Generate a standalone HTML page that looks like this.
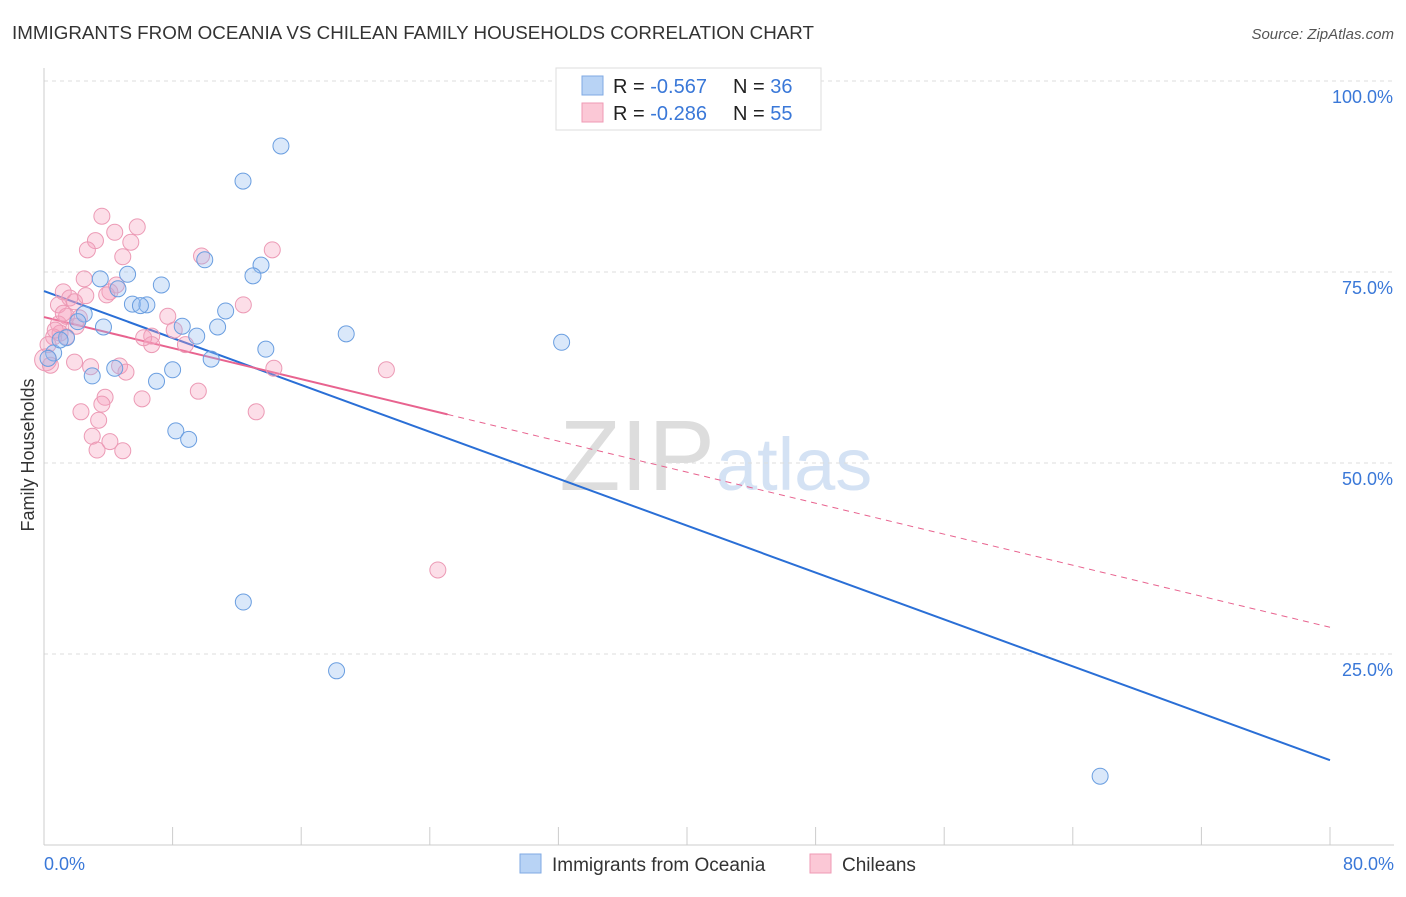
<!DOCTYPE html>
<html><head><meta charset="utf-8"><style>
body{margin:0;background:#fff;font-family:"Liberation Sans",sans-serif;}
svg text{font-family:"Liberation Sans",sans-serif;}
</style></head><body>
<svg id="c" width="1406" height="892" xmlns="http://www.w3.org/2000/svg">
<text x="12" y="39" font-size="18" fill="#333" textLength="802" lengthAdjust="spacingAndGlyphs">IMMIGRANTS FROM OCEANIA VS CHILEAN FAMILY HOUSEHOLDS CORRELATION CHART</text>
<text x="1394" y="39" font-size="15" fill="#555" font-style="italic" text-anchor="end">Source: ZipAtlas.com</text>
<text x="715" y="490" font-size="100" fill="#ddd" font-family="Liberation Serif" text-anchor="end">ZIP</text>
<text x="716" y="490" font-size="74" fill="#d4e2f4">atlas</text>
<g id="grid"></g>
<g id="axes"></g>
<g id="lines"></g>
<g id="pts"></g>
<text transform="translate(34,455) rotate(-90)" font-size="18" fill="#333" text-anchor="middle">Family Households</text>
<g>
<rect x="556" y="68" width="265" height="62" fill="#fff" stroke="#ddd"/>
<rect x="582" y="76" width="21" height="19" fill="#b8d3f5" stroke="#7fa9e3"/>
<rect x="582" y="103" width="21" height="19" fill="#fbc8d6" stroke="#ef9ab4"/>
<text x="613" y="93" font-size="20" fill="#222">R = <tspan fill="#3a78d8">-0.567</tspan></text>
<text x="733" y="93" font-size="20" fill="#222">N = <tspan fill="#3a78d8">36</tspan></text>
<text x="613" y="120" font-size="20" fill="#222">R = <tspan fill="#3a78d8">-0.286</tspan></text>
<text x="733" y="120" font-size="20" fill="#222">N = <tspan fill="#3a78d8">55</tspan></text>
</g>
<g>
<rect x="520" y="854" width="21" height="19" fill="#b8d3f5" stroke="#7fa9e3"/>
<text x="552" y="871" font-size="19" fill="#333">Immigrants from Oceania</text>
<rect x="810" y="854" width="21" height="19" fill="#fbc8d6" stroke="#ef9ab4"/>
<text x="842" y="871" font-size="19" fill="#333">Chileans</text>
</g>
</svg>
<script>
const blueX=[14.74,12.38,13.5,13.0,10.0,5.2,3.5,4.6,7.3,5.5,6.4,6.0,11.3,2.5,3.7,8.6,10.8,9.5,18.8,32.2,1.4,0.6,13.8,10.4,8.0,3.0,4.4,7.0,8.2,9.0,12.4,18.2,65.7,0.25,1.0,2.1];
const blueY=[91.5,86.9,75.9,74.5,76.6,74.7,74.1,72.8,73.3,70.8,70.7,70.6,69.9,69.5,67.8,67.9,67.8,66.6,66.9,65.8,66.4,64.4,64.9,63.6,62.2,61.4,62.4,60.7,54.2,53.1,31.8,22.8,9.0,63.7,66.1,68.5];
const pinkX=[3.6,5.8,4.4,3.2,5.4,2.7,14.2,9.8,4.9,2.5,4.5,1.2,1.6,4.1,1.9,2.6,0.9,12.4,1.4,2.2,7.7,0.9,1.0,8.1,6.7,1.4,0.6,8.8,6.7,0.25,1.9,2.9,4.7,5.1,14.3,21.3,9.6,6.1,3.8,3.6,2.3,13.2,3.4,3.0,4.1,3.3,4.9,24.5,0.1,0.4,0.7,1.2,3.9,2.0,6.2];
const pinkY=[82.3,80.9,80.2,79.1,78.9,77.9,77.9,77.1,77.0,74.1,73.3,72.4,71.6,72.4,71.1,71.9,70.7,70.7,69.2,69.0,69.2,68.2,67.0,67.4,66.6,66.5,66.5,65.5,65.5,65.5,63.2,62.6,62.7,61.9,62.4,62.2,59.4,58.4,58.6,57.7,56.7,56.7,55.6,53.5,52.8,51.7,51.6,36.0,63.5,62.8,67.4,69.6,72.0,67.9,66.4];
const blueFit=[72.5,11.1];
const pinkFit=[69.1,28.5];
const pinkSolidEnd=25.1;
const yTicks=[25,50,75,100];
const xTickVals=[0,8,16,24,32,40,48,56,64,72,80];

const X0=44,X1=1330,Y0=845,Y100=81;
const sx=v=>X0+(X1-X0)*v/80;
const sy=v=>Y0-(Y0-Y100)*v/100;
const NS='http://www.w3.org/2000/svg';
function mk(parent,tag,attrs){const e=document.createElementNS(NS,tag);for(const k in attrs)e.setAttribute(k,attrs[k]);document.getElementById(parent).appendChild(e);return e;}

yTicks.forEach(t=>{
  const l=mk('grid','line',{x1:X0,x2:1394,y1:sy(t),y2:sy(t),stroke:'#ddd','stroke-dasharray':'4,4'});
  
  
  const tx=mk('grid','text',{x:1393,y:sy(t)+22,'font-size':18,fill:'#3a78d8','text-anchor':'end'});
  tx.textContent=t.toFixed(1)+'%';
  
  
});
const ya=mk('axes','line',{x1:X0,x2:X0,y1:68,y2:Y0,stroke:'#ccc'});


const xa=mk('axes','line',{x1:X0,x2:1394,y1:Y0,y2:Y0,stroke:'#ccc'});


xTickVals.forEach(t=>{
  const l=mk('axes','line',{x1:sx(t),x2:sx(t),y1:Y0,y2:827,stroke:'#ccc'});
  
  
});
[[0,'start'],[80,'end']].forEach(([t,a])=>{
  const tx=mk('axes','text',{x:t===0?X0:1394,y:870,'font-size':18,fill:'#3a78d8','text-anchor':a});
  tx.textContent=t.toFixed(1)+'%';
  
  
});

const yAt=(f,x)=>f[0]+(f[1]-f[0])*x/80;
const bl=mk('lines','line',{x1:sx(0),y1:sy(blueFit[0]),x2:sx(80),y2:sy(blueFit[1]),stroke:'#2a6fd6','stroke-width':2});


const pl=mk('lines','line',{x1:sx(0),y1:sy(pinkFit[0]),x2:sx(pinkSolidEnd),y2:sy(yAt(pinkFit,pinkSolidEnd)),stroke:'#e8638f','stroke-width':2});


const pd=mk('lines','line',{x1:sx(pinkSolidEnd),y1:sy(yAt(pinkFit,pinkSolidEnd)),x2:sx(80),y2:sy(pinkFit[1]),stroke:'#e8638f','stroke-width':1,'stroke-dasharray':'6,5'});



pinkX.forEach((x,i)=>{
  const c=mk('pts','circle',{cx:sx(x),cy:sy(pinkY[i]),r:i===48?11:8,fill:'rgba(245,160,190,0.35)',stroke:'#ec9ab5','stroke-width':1});
  
  
});
blueX.forEach((x,i)=>{
  const c=mk('pts','circle',{cx:sx(x),cy:sy(blueY[i]),r:8,fill:'rgba(150,190,240,0.35)',stroke:'#6a9ee0','stroke-width':1});
  
  
});
</script>
</body></html>
